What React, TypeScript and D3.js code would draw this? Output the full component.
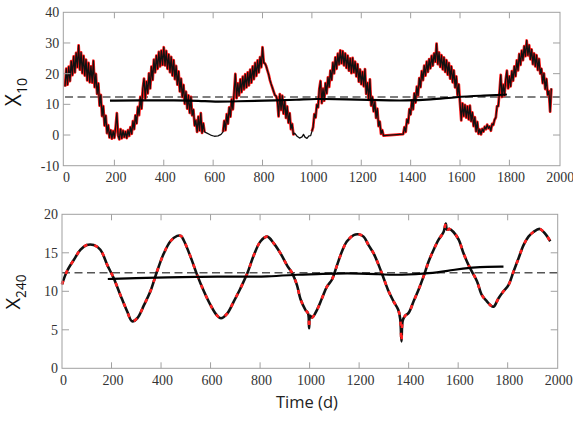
import React from "react";
import * as d3 from "d3";

// Daily abundance, 10-day window (day, value)
const x10Series: [number, number][] = [
  [0, 15.8], [5, 21.6], [10, 16.4], [15, 22.3], [20, 17.6], [25, 24.1], [30, 19.5], [35, 25.6], [40, 20.4], [45, 26.8],
  [50, 22.1], [55, 29.2], [60, 21.3], [65, 26.9], [70, 20.2], [75, 25.8], [80, 19.4], [85, 24.6], [90, 17.8], [95, 23.5],
  [100, 17.2], [105, 22.4], [110, 17.1], [115, 24.2], [120, 15.6], [125, 19.9], [130, 13.4], [135, 16.8], [140, 9.6], [145, 13.1],
  [150, 6.2], [155, 9.4], [160, 3.1], [165, 6.3], [170, 0.6], [175, 3.2], [180, -0.8], [185, 1.6], [190, -1.2], [195, 1.3],
  [200, -0.9], [205, 2.6], [210, 7.1], [215, -0.2], [220, -1.4], [225, 1.9], [230, -1.1], [235, 1.4], [240, -0.7], [245, 1.1],
  [250, -1.0], [255, 1.6], [260, -0.3], [265, 2.6], [270, 0.4], [275, 4.5], [280, 1.9], [285, 6.4], [290, 3.8], [295, 9.2],
  [300, 6.5], [305, 12.4], [310, 8.6], [315, 15.1], [320, 18.4], [325, 11.9], [330, 17.4], [335, 13.6], [340, 20.1], [345, 15.2],
  [350, 22.3], [355, 18.0], [360, 24.6], [365, 20.4], [370, 25.9], [375, 21.6], [380, 27.1], [385, 22.4], [390, 27.5], [395, 22.9],
  [400, 28.6], [405, 22.7], [410, 27.4], [415, 21.6], [420, 26.3], [425, 20.5], [430, 25.5], [435, 19.4], [440, 24.4], [445, 18.2],
  [450, 22.5], [455, 16.4], [460, 20.7], [465, 14.2], [470, 18.4], [475, 12.4], [480, 16.3], [485, 10.2], [490, 14.1], [495, 8.6],
  [500, 12.9], [505, 7.2], [510, 12.4], [515, 6.4], [520, 8.3], [525, 3.1], [530, 4.8], [535, 1.0], [540, 6.0], [545, 1.5],
  [550, 7.1], [555, 0.7], [560, 3.8], [565, 1.0], [575, 0.6], [590, 0.0], [605, -0.4], [620, -0.3], [632, 0.2], [640, 1.0],
  [645, 4.6], [650, 1.6], [655, 6.8], [660, 3.7], [665, 9.0], [670, 6.0], [675, 11.6], [680, 8.4], [685, 14.0], [690, 19.9],
  [695, 12.0], [700, 16.8], [705, 12.9], [710, 18.1], [715, 14.0], [720, 19.0], [725, 14.9], [730, 19.8], [735, 15.5], [740, 20.4],
  [745, 16.2], [750, 21.3], [755, 17.1], [760, 22.4], [765, 18.2], [770, 23.5], [775, 19.3], [780, 24.3], [785, 20.4], [790, 25.4],
  [795, 22.1], [800, 28.6], [805, 23.6], [810, 23.3], [815, 22.4], [820, 21.0], [825, 19.7], [830, 17.9], [835, 16.6], [840, 15.4],
  [845, 14.2], [850, 13.0], [855, 12.7], [860, 11.4], [865, 6.1], [870, 13.3], [875, 8.2], [880, 12.8], [885, 7.0], [890, 11.1],
  [895, 5.6], [900, 9.3], [905, 4.0], [910, 7.1], [915, 1.9], [920, 3.6], [925, 0.2], [930, 0.6], [940, -0.4], [950, -1.0],
  [960, -0.6], [966, 0.2], [972, -0.7], [980, -1.1], [988, -0.3], [995, -0.2], [1000, 1.2], [1005, 2.6], [1010, 6.8], [1015, 5.7],
  [1020, 9.9], [1025, 9.0], [1030, 15.0], [1035, 17.6], [1040, 10.4], [1045, 15.1], [1050, 11.2], [1055, 16.9], [1060, 13.6], [1065, 18.8],
  [1070, 15.7], [1075, 21.0], [1080, 18.0], [1085, 23.6], [1090, 20.1], [1095, 25.3], [1100, 21.6], [1105, 26.5], [1110, 23.0], [1115, 27.6],
  [1120, 23.4], [1125, 27.3], [1130, 22.7], [1135, 26.6], [1140, 21.9], [1145, 25.9], [1150, 21.0], [1155, 25.0], [1160, 20.2], [1165, 25.1],
  [1170, 20.4], [1175, 23.9], [1180, 19.1], [1185, 23.1], [1190, 17.4], [1195, 21.4], [1200, 16.6], [1205, 20.6], [1210, 15.9], [1215, 21.5],
  [1220, 13.4], [1225, 17.0], [1230, 11.5], [1235, 18.1], [1240, 9.6], [1245, 12.4], [1250, 7.7], [1255, 10.8], [1260, 5.6], [1265, 8.6],
  [1270, 2.9], [1275, 4.4], [1280, 0.4], [1285, 1.6], [1290, -0.2], [1370, 0.3], [1375, 2.6], [1380, 1.0], [1385, 5.1], [1390, 3.9],
  [1395, 8.4], [1400, 6.7], [1405, 11.3], [1410, 8.4], [1415, 13.6], [1420, 10.6], [1425, 15.8], [1430, 12.9], [1435, 18.5], [1440, 15.6],
  [1445, 20.8], [1450, 17.9], [1455, 22.6], [1460, 19.4], [1465, 23.9], [1470, 20.6], [1475, 24.7], [1480, 21.7], [1485, 25.8], [1490, 22.6],
  [1495, 26.6], [1500, 23.9], [1505, 29.8], [1510, 23.1], [1515, 26.9], [1520, 22.2], [1525, 26.0], [1530, 21.4], [1535, 25.3], [1540, 20.6],
  [1545, 24.4], [1550, 19.7], [1555, 23.5], [1560, 18.4], [1565, 22.4], [1570, 17.2], [1575, 21.1], [1580, 15.5], [1585, 19.1], [1590, 13.0],
  [1595, 16.5], [1600, 10.4], [1605, 4.8], [1610, 10.3], [1615, 6.2], [1620, 9.8], [1625, 5.7], [1630, 9.3], [1635, 5.1], [1640, 9.6],
  [1645, 4.5], [1650, 7.4], [1655, 2.9], [1660, 5.8], [1665, 1.2], [1670, 4.3], [1675, 0.4], [1680, 1.8], [1685, 0.2], [1690, 2.0],
  [1695, 1.1], [1700, 2.7], [1705, 1.9], [1710, 3.4], [1715, 2.2], [1720, 2.8], [1725, 1.4], [1730, 3.6], [1735, 3.3], [1740, 5.0],
  [1745, 5.7], [1750, 9.4], [1755, 9.4], [1760, 14.1], [1765, 19.6], [1770, 12.4], [1775, 16.4], [1780, 12.9], [1785, 18.0], [1790, 21.0],
  [1795, 15.2], [1800, 19.1], [1805, 15.9], [1810, 20.8], [1815, 17.7], [1820, 22.4], [1825, 19.2], [1830, 24.3], [1835, 21.1], [1840, 26.4],
  [1845, 22.9], [1850, 27.5], [1855, 24.4], [1860, 29.0], [1865, 25.7], [1870, 30.8], [1875, 26.0], [1880, 29.3], [1885, 24.7], [1890, 27.9],
  [1895, 23.1], [1900, 26.6], [1905, 22.4], [1910, 26.0], [1915, 21.2], [1920, 24.8], [1925, 20.0], [1930, 21.6], [1935, 16.9], [1940, 20.1],
  [1945, 15.0], [1950, 18.3], [1955, 13.1], [1960, 14.3], [1965, 7.6], [1970, 15.2],
];

// Day ranges without the red (observed) trace
const x10RedGaps: [number, number][] = [[566, 639], [931, 999], [1291, 1369]];

// Running mean of the 10-day series
const x10Trend: [number, number][] = [
  [182, 11.2], [300, 11.3], [450, 11.3], [547, 11.2], [601, 10.8], [700, 11.0], [800, 11.2], [952, 11.5],
  [1006, 11.8], [1141, 11.7], [1276, 11.3], [1384, 11.2], [1479, 11.5], [1587, 12.4], [1681, 12.8], [1790, 13.2],
];

// 240-day window series
const x240Series: [number, number][] = [
  [0, 10.9], [20, 12.6], [48, 14.1], [75, 15.4], [100, 16.0], [128, 16.0], [155, 15.4], [183, 13.4], [209, 11.7], [236, 9.5],
  [263, 7.4], [283, 6.1], [304, 6.5], [331, 8.2], [357, 10.0], [384, 12.6], [411, 14.9], [438, 16.5], [465, 17.2], [480, 17.2],
  [492, 16.6], [519, 14.5], [546, 12.1], [573, 10.0], [600, 8.2], [625, 6.9], [642, 6.5], [667, 7.1], [694, 8.7], [721, 10.4],
  [748, 12.3], [775, 14.7], [802, 16.5], [829, 17.1], [856, 16.2], [883, 14.9], [910, 13.3], [929, 12.4], [949, 10.8], [963, 9.0],
  [983, 7.6], [994, 7.1], [998, 5.2], [1002, 6.8], [1010, 6.6], [1030, 7.6], [1050, 9.1], [1070, 10.6], [1090, 11.5], [1111, 13.4],
  [1131, 15.2], [1151, 16.5], [1178, 17.3], [1198, 17.4], [1218, 17.1], [1238, 16.0], [1259, 14.9], [1279, 13.4], [1299, 11.7], [1319, 10.0],
  [1339, 8.7], [1358, 7.6], [1366, 6.4], [1371, 3.5], [1376, 6.2], [1385, 6.8], [1400, 7.2], [1420, 8.7], [1440, 10.2], [1460, 11.9],
  [1481, 13.9], [1501, 15.4], [1521, 16.7], [1541, 17.7], [1550, 18.8], [1555, 18.0], [1565, 18.1], [1581, 17.7], [1602, 16.7], [1622, 14.9],
  [1642, 13.4], [1655, 12.6], [1676, 11.3], [1696, 9.5], [1716, 8.7], [1730, 8.2], [1743, 8.0], [1763, 9.1], [1783, 10.0], [1803, 10.8],
  [1824, 12.6], [1844, 14.3], [1864, 16.0], [1884, 17.1], [1904, 17.7], [1929, 18.1], [1951, 17.5], [1972, 16.5],
];

const x240Trend: [number, number][] = [
  [185, 11.6], [296, 11.7], [425, 11.8], [560, 11.9], [694, 11.9], [829, 11.9], [964, 12.2], [1017, 12.2],
  [1151, 12.4], [1286, 12.2], [1366, 12.1], [1487, 12.3], [1581, 12.8], [1662, 13.1], [1716, 13.2], [1783, 13.2],
];

const meanLevel = 12.4;
const dayTicks = [0, 200, 400, 600, 800, 1000, 1200, 1400, 1600, 1800, 2000];
const x10Ticks = [-10, 0, 10, 20, 30, 40];
const x240Ticks = [0, 5, 10, 15, 20];

const FRAME = "#a0a0a0";
const TICK_TEXT = "#333";
const SERIF = "'Liberation Serif', 'DejaVu Serif', serif";
const SANS = "'Open Sans', 'Noto Sans', sans-serif";

type PanelProps = {
  xDomain: [number, number];
  xRange: [number, number];
  yDomain: [number, number];
  yRange: [number, number];
  yTicks: number[];
  sub: string;
  labelPos: [number, number];
  labelSize: number;
  children: (x: d3.ScaleLinear<number, number>, y: d3.ScaleLinear<number, number>) => React.ReactNode;
};

function Panel({ xDomain, xRange, yDomain, yRange, yTicks, sub, labelPos, labelSize, children }: PanelProps) {
  const x = d3.scaleLinear().domain(xDomain).range(xRange);
  const y = d3.scaleLinear().domain(yDomain).range(yRange);
  const [left, right] = xRange;
  const [bottom, top] = yRange;
  const tl = 6;
  return (
    <g>
      {children(x, y)}
      <rect x={left} y={top} width={right - left} height={bottom - top} fill="none" stroke={FRAME} strokeWidth={1} />
      {dayTicks.map((t) => (
        <g key={"x" + t}>
          {t > xDomain[0] + 20 && t < xDomain[1] - 20 && (
            <>
              <line x1={x(t)} x2={x(t)} y1={bottom} y2={bottom - tl} stroke={FRAME} />
              <line x1={x(t)} x2={x(t)} y1={top} y2={top + tl} stroke={FRAME} />
            </>
          )}
          <text x={x(t) + 1.5} y={bottom + 16.5} textAnchor="middle" fontFamily={SERIF} fontSize={14} fill={TICK_TEXT}>
            {t}
          </text>
        </g>
      ))}
      {yTicks.map((v) => (
        <g key={"y" + v}>
          {v > yDomain[0] && v < yDomain[1] && (
            <>
              <line x1={left} x2={left + tl + 1} y1={y(v)} y2={y(v)} stroke={FRAME} />
              <line x1={right} x2={right - tl - 1} y1={y(v)} y2={y(v)} stroke={FRAME} />
            </>
          )}
          <text x={left - 4} y={y(v)} dy="0.35em" textAnchor="end" fontFamily={SERIF} fontSize={14} fill={TICK_TEXT}>
            {v}
          </text>
        </g>
      ))}
      <text
        transform={`translate(${labelPos[0]},${labelPos[1]}) rotate(-90)`}
        textAnchor="middle"
        fontFamily={SANS}
        fontSize={labelSize}
        fill="#111"
      >
        X
        <tspan dy={labelSize * 0.3} fontSize={labelSize * 0.68}>
          {sub}
        </tspan>
      </text>
    </g>
  );
}

export default function App() {
  const inGap = (t: number) => x10RedGaps.some(([a, b]) => t > a && t < b);

  return (
    <svg width={573} height={422} style={{ position: "absolute", left: 0, top: 0, background: "#fff" }}>
      <rect width={573} height={422} fill="#fff" />
      <Panel
        xDomain={[-7, 2005]}
        xRange={[63.3, 560]}
        yDomain={[-10, 40]}
        yRange={[165.7, 12.3]}
        yTicks={x10Ticks}
        sub="10"
        labelPos={[21, 92]}
        labelSize={21}
      >
        {(x, y) => {
          const line = d3.line<[number, number]>().x((d) => x(d[0])).y((d) => y(d[1]));
          const redLine = d3
            .line<[number, number]>()
            .defined((d) => !inGap(d[0]))
            .x((d) => x(d[0]))
            .y((d) => y(d[1]));
          return (
            <g>
              <line x1={x(0)} x2={560} y1={y(meanLevel)} y2={y(meanLevel)} stroke="#555" strokeWidth={1.4} strokeDasharray="8,4.5" />
              <path d={redLine(x10Series) ?? ""} fill="none" stroke="#ff1a1a" strokeWidth={2.8} strokeLinejoin="round" />
              <path d={line(x10Series) ?? ""} fill="none" stroke="#111" strokeWidth={1.3} strokeLinejoin="round" />
              <path
                d={d3.line<[number, number]>().curve(d3.curveBasis).x((d) => x(d[0])).y((d) => y(d[1]))(x10Trend) ?? ""}
                fill="none"
                stroke="#000"
                strokeWidth={2.2}
              />
            </g>
          );
        }}
      </Panel>
      <Panel
        xDomain={[0, 2002]}
        xRange={[62, 557.7]}
        yDomain={[0, 20]}
        yRange={[368.3, 214.3]}
        yTicks={x240Ticks}
        sub="240"
        labelPos={[19.5, 292]}
        labelSize={20}
      >
        {(x, y) => {
          const smooth = d3
            .line<[number, number]>()
            .curve(d3.curveCatmullRom.alpha(0.5))
            .x((d) => x(d[0]))
            .y((d) => y(d[1]));
          return (
            <g>
              <line x1={62} x2={557.7} y1={y(meanLevel)} y2={y(meanLevel)} stroke="#555" strokeWidth={1.4} strokeDasharray="8,4.5" />
              <path d={smooth(x240Series) ?? ""} fill="none" stroke="#111" strokeWidth={2.6} />
              <path d={smooth(x240Series) ?? ""} fill="none" stroke="#ff2020" strokeWidth={2.6} strokeDasharray="4,7" />
              <path d={d3.line<[number, number]>().curve(d3.curveBasis).x((d) => x(d[0])).y((d) => y(d[1]))(x240Trend) ?? ""} fill="none" stroke="#000" strokeWidth={2.2} />
            </g>
          );
        }}
      </Panel>
      <text x={307} y={408} textAnchor="middle" fontFamily={SANS} fontSize={16.5} fill="#222">
        Time (d)
      </text>
    </svg>
  );
}
